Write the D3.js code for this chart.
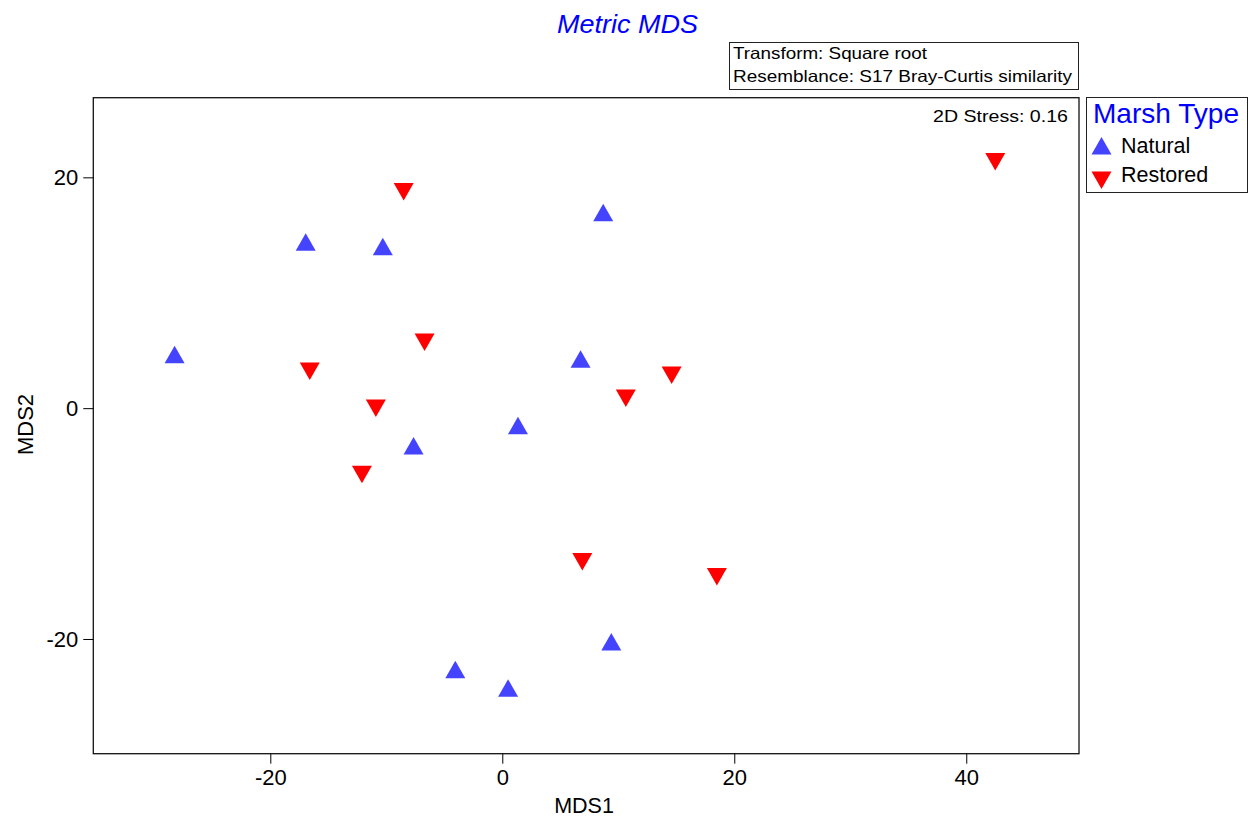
<!DOCTYPE html>
<html>
<head>
<meta charset="utf-8">
<script src="https://cdn.jsdelivr.net/npm/d3@7"></script>
<style>
  body { margin: 0; background: #fff; }
  text { font-family: "Liberation Sans", Arial, sans-serif; }
</style>
</head>
<body>
<div id="chart"></div>
<script>
// point data
const naturalX = [-28.25, -16.95, -10.3, 8.7, 6.75, 1.35, -7.65, 9.4, -4.05, 0.5];
const naturalY = [4.65, 14.4, 14.0, 16.95, 4.25, -1.5, -3.25, -20.25, -22.65, -24.25];
const restoredX = [-8.5, 42.5, -6.7, -16.6, -10.9, -12.1, 10.65, 14.6, 6.9, 18.5];
const restoredY = [18.75, 21.35, 5.7, 3.2, 0.0, -5.75, 0.85, 2.85, -13.3, -14.6];
const groups = ['Natural', 'Restored'];
const xTicks = [-20, 0, 20, 40];
const yTicks = [-20, 0, 20];

const W = 1252, H = 818;
const margin = {top: 97.7, right: 173, bottom: 64.3, left: 93.3},
    width = W - margin.left - margin.right,
    height = H - margin.top - margin.bottom;

const blue = '#4444ff', red = '#ff0000';

// triangle centred on its bounding box
const triUp = {draw(ctx, size) {
  const w = 20, h = 17.5;
  ctx.moveTo(0, -h / 2); ctx.lineTo(w / 2, h / 2); ctx.lineTo(-w / 2, h / 2); ctx.closePath();
}};
const triDown = {draw(ctx, size) {
  const w = 20, h = 17.5;
  ctx.moveTo(0, h / 2); ctx.lineTo(w / 2, -h / 2); ctx.lineTo(-w / 2, -h / 2); ctx.closePath();
}};

const svg = d3.select('#chart').append('svg')
    .attr('width', W).attr('height', H);

const g = svg.append('g')
    .attr('transform', `translate(${margin.left},${margin.top})`);

const x = d3.scaleLinear().domain([-35.26, 49.72]).range([0, width]);
const y = d3.scaleLinear().domain([-29.94, 26.9]).range([height, 0]);

// frame
g.append('rect')
  .attr('width', width).attr('height', height)
  .attr('fill', 'none').attr('stroke', '#111').attr('stroke-width', 1.3);

// axes
const fmt = d => String(d); // plain hyphen minus
const xAxis = g.append('g')
  .attr('transform', `translate(0,${height})`)
  .call(d3.axisBottom(x).tickValues(xTicks).tickSize(10).tickPadding(5).tickFormat(fmt));
const yAxis = g.append('g')
  .call(d3.axisLeft(y).tickValues(yTicks).tickSize(10).tickPadding(5).tickFormat(fmt));
[xAxis, yAxis].forEach(a => {
  a.select('.domain').remove();
  a.selectAll('text').attr('font-size', 22).attr('fill', '#000')
    .attr('font-family', '"Liberation Sans", Arial, sans-serif');
  a.selectAll('line').attr('stroke', '#000');
});
xAxis.selectAll('text').attr('y', 31.5).attr('dy', 0);

// axis labels
svg.append('text')
  .attr('x', 584).attr('y', 812.5)
  .attr('text-anchor', 'middle').attr('font-size', 21.5)
  .text('MDS1');
svg.append('text')
  .attr('text-anchor', 'middle').attr('font-size', 22)
  .attr('transform', 'translate(33,424.5) rotate(-90)')
  .text('MDS2');

// title
svg.append('text')
  .attr('x', 557).attr('y', 33)
  .attr('font-size', 26).attr('textLength', 141).attr('lengthAdjust', 'spacingAndGlyphs')
  .attr('font-style', 'italic').attr('fill', '#0000ff')
  .text('Metric MDS');

// transform box
svg.append('rect')
  .attr('x', 729.5).attr('y', 42.5).attr('width', 349).attr('height', 47)
  .attr('fill', 'none').attr('stroke', '#222');
svg.append('text').attr('x', 733).attr('y', 58.5).attr('font-size', 16.5)
  .attr('textLength', 194).attr('lengthAdjust', 'spacingAndGlyphs')
  .text('Transform: Square root');
svg.append('text').attr('x', 733).attr('y', 82).attr('font-size', 16.5)
  .attr('textLength', 339).attr('lengthAdjust', 'spacingAndGlyphs')
  .text('Resemblance: S17 Bray-Curtis similarity');

// stress
svg.append('text')
  .attr('x', 933).attr('y', 121.5)
  .attr('font-size', 16.5).attr('textLength', 135).attr('lengthAdjust', 'spacingAndGlyphs')
  .text('2D Stress: 0.16');

// symbols
g.selectAll('.nat').data(naturalX)
  .join('path').attr('class', 'nat')
  .attr('d', d3.symbol().type(triUp))
  .attr('fill', blue)
  .attr('transform', (d, i) => `translate(${x(d)},${y(naturalY[i])})`);

g.selectAll('.res').data(restoredX)
  .join('path').attr('class', 'res')
  .attr('d', d3.symbol().type(triDown))
  .attr('fill', red)
  .attr('transform', (d, i) => `translate(${x(d)},${y(restoredY[i])})`);

// legend
const lg = svg.append('g');
lg.append('rect')
  .attr('x', 1086.5).attr('y', 97.5).attr('width', 161).attr('height', 95)
  .attr('fill', 'none').attr('stroke', '#222');
lg.append('text').attr('x', 1093).attr('y', 123.3).attr('font-size', 28)
  .attr('textLength', 146).attr('lengthAdjust', 'spacingAndGlyphs')
  .attr('fill', '#0000ff').text('Marsh Type');
groups.forEach((gname, i) => {
  lg.append('path')
    .attr('d', d3.symbol().type(i === 0 ? triUp : triDown))
    .attr('fill', i === 0 ? blue : red)
    .attr('transform', `translate(1101.5,${i === 0 ? 145.7 : 180.3})`);
  lg.append('text').attr('x', 1121).attr('y', i === 0 ? 153.3 : 181.5).attr('font-size', 21.5)
    .text(gname);
});
</script>
</body>
</html>
